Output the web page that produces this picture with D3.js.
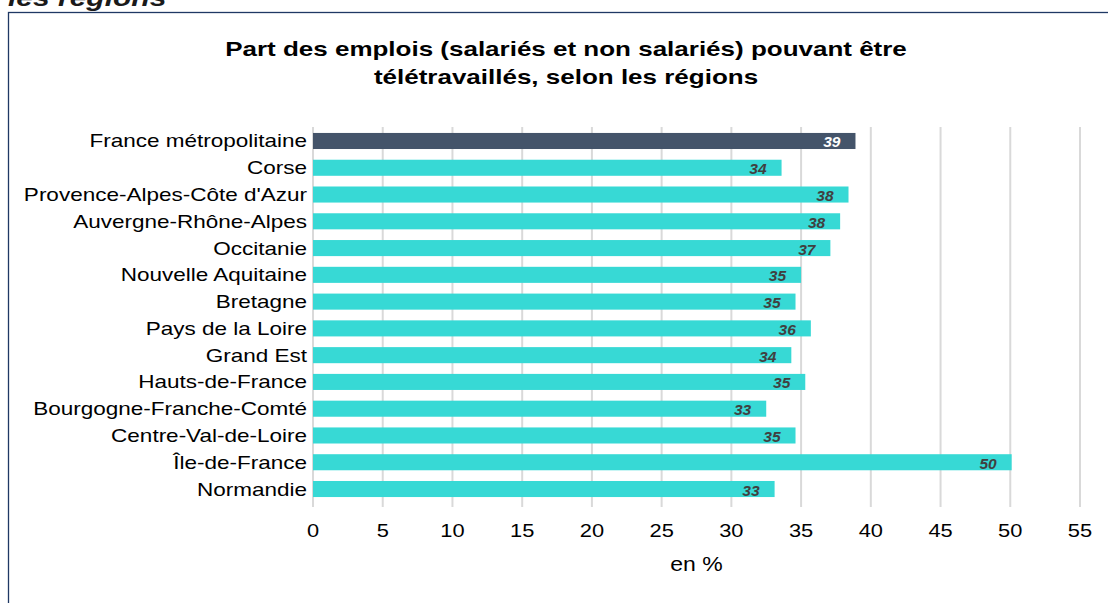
<!DOCTYPE html>
<html><head><meta charset="utf-8">
<script src="https://cdn.jsdelivr.net/npm/d3@7"></script>
<style>body{margin:0;background:#fff}svg{display:block;font-family:"Liberation Sans",Arial,sans-serif}</style>
</head><body><svg id="c" width="1108" height="603"></svg>
<script>
const categories = ["France métropolitaine","Corse","Provence-Alpes-Côte d'Azur","Auvergne-Rhône-Alpes","Occitanie","Nouvelle Aquitaine","Bretagne","Pays de la Loire","Grand Est","Hauts-de-France","Bourgogne-Franche-Comté","Centre-Val-de-Loire","Île-de-France","Normandie"];
const values = [38.9,33.6,38.4,37.8,37.1,35.0,34.6,35.7,34.3,35.3,32.5,34.6,50.1,33.1];
const labels = ["39","34","38","38","37","35","35","36","34","35","33","35","50","33"];
const xTicks = [0,5,10,15,20,25,30,35,40,45,50,55];
const titleLines = ["Part des emplois (salariés et non salariés) pouvant être","télétravaillés, selon les régions"];

const svg = d3.select("#c");
function stext(parent, x, y, sx, anchor, txt){
  return parent.append("text").attr("transform",`translate(${x},${y}) scale(${sx},1)`)
    .attr("text-anchor",anchor).text(txt);
}
// cut-off heading
stext(svg, 8, 6, 1.25, "start", "les régions").attr("font-size",24).attr("font-weight","bold").attr("font-style","italic").attr("fill","#1a1a1a");
// frame
svg.append("rect").attr("x",8.5).attr("y",12.5).attr("width",1110).attr("height",620).attr("fill","none").attr("stroke","#1f3864").attr("stroke-width",1.3);

titleLines.forEach((t,i)=>stext(svg, 566, 56+i*28, 1.25, "middle", t).attr("font-size",20.8).attr("font-weight","bold").attr("fill","#000"));

const x = d3.scaleLinear().domain([0,55]).range([313,1080]);
const y = d3.scaleBand().domain(categories).range([127.6,502.4]).paddingInner(0.4).paddingOuter(0.2);

const g = svg.append("g");
g.selectAll("line.grid").data(xTicks).join("line").attr("class","grid")
  .attr("x1",d=>x(d)).attr("x2",d=>x(d)).attr("y1",127).attr("y2",507)
  .attr("stroke","#d9d9d9").attr("stroke-width",2);

g.selectAll("rect.bar").data(values).join("rect").attr("class","bar")
  .attr("x",x(0)).attr("y",(d,i)=>y(categories[i])).attr("width",d=>x(d)-x(0)).attr("height",y.bandwidth())
  .attr("fill",(d,i)=>i===0?"#44546a":"#37d9d5");

values.forEach((v,i)=>{
  stext(g, x(v)-15, y(categories[i])+y.bandwidth()/2+6.5, 1.0, "end", labels[i])
    .attr("font-size",15.5).attr("font-weight","bold").attr("font-style","italic")
    .attr("fill",i===0?"#ffffff":"#404040");
});

categories.forEach(c=>{
  stext(g, 307, y(c)+y.bandwidth()/2+6.5, 1.23, "end", c).attr("font-size",18.3).attr("fill","#000");
});

xTicks.forEach(t=>{
  stext(svg, x(t), 537, 1.15, "middle", d3.format("d")(t)).attr("font-size",19).attr("fill","#000");
});

stext(svg, x(27.5), 571, 1.15, "middle", "en %").attr("font-size",20).attr("fill","#000");
</script></body></html>
